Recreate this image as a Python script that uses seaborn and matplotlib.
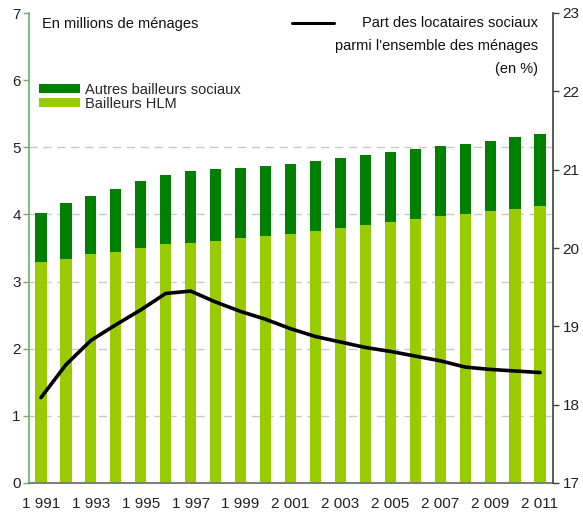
import matplotlib
matplotlib.use("Agg")
import matplotlib.pyplot as plt
import seaborn as sns
import pandas as pd
import numpy as np
from matplotlib.patches import Patch
from matplotlib.lines import Line2D

years = list(range(1991, 2012))
total_sociaux = [4.02, 4.17, 4.27, 4.38, 4.50, 4.59, 4.65, 4.68, 4.69, 4.72, 4.75,
                 4.80, 4.84, 4.89, 4.93, 4.97, 5.02, 5.05, 5.09, 5.15, 5.20]
bailleurs_hlm = [3.29, 3.34, 3.41, 3.44, 3.50, 3.56, 3.57, 3.60, 3.65, 3.68, 3.71,
                 3.75, 3.80, 3.84, 3.89, 3.93, 3.98, 4.01, 4.05, 4.08, 4.13]
part_locataires = [18.09, 18.51, 18.82, 19.02, 19.21, 19.42, 19.45, 19.31, 19.19, 19.09, 18.97,
                   18.87, 18.80, 18.73, 18.68, 18.62, 18.56, 18.48, 18.45, 18.43, 18.41]
year_labels = ["1 991", "1 993", "1 995", "1 997", "1 999", "2 001", "2 003", "2 005", "2 007", "2 009", "2 011"]

sns.set_theme(style="white")
plt.rcParams["font.family"] = ["Liberation Sans", "DejaVu Sans"]

DARK = "#008000"
LIGHT = "#99CC00"

df = pd.DataFrame({"annee": [str(y) for y in years], "total": total_sociaux,
                   "hlm": bailleurs_hlm, "part": part_locataires})
df["idx"] = np.arange(len(df))

fig = plt.figure(figsize=(5.83, 5.18), dpi=100)
ax = fig.add_axes([29/583, 1-483/518, (553-29)/583, (483-13)/518])

sns.barplot(data=df, x="annee", y="total", color=DARK, width=0.45, ax=ax,
            saturation=1, linewidth=0, edgecolor="none")
sns.barplot(data=df, x="annee", y="hlm", color=LIGHT, width=0.45, ax=ax,
            saturation=1, linewidth=0, edgecolor="none")
for p in ax.patches:
    p.set_zorder(3)
    p.set_linewidth(0)

ax.set_ylim(0, 7)
ax.set_xlim(-0.48, 20.52)
ax.set_yticks(range(0, 8))
ax.set_yticklabels([str(i) for i in range(0, 8)], fontsize=11, color="#222222")
for v in range(1, 6):
    ax.axhline(v, color="#c8c8c8", lw=1, ls=(0, (6, 4)), zorder=1)
ax.set_xticks(range(0, 21, 2))
ax.set_xticklabels(year_labels, fontsize=11, color="#222222")
ax.tick_params(axis="x", length=0, pad=10)
ax.tick_params(axis="y", length=4, width=1, color="#66b366", pad=2, direction="out", left=True)
ax.set_xlabel("")
ax.set_ylabel("")
for s in ["top", "right"]:
    ax.spines[s].set_visible(False)
ax.spines["left"].set_color("#66b366")
ax.spines["left"].set_linewidth(1.2)
ax.spines["bottom"].set_color("#808080")
ax.spines["bottom"].set_linewidth(1.5)
ax.spines["bottom"].set_zorder(4)

ax2 = ax.twinx()
sns.lineplot(data=df, x="idx", y="part", color="black", lw=2.6, ax=ax2, zorder=5)
ax2.set_ylim(17, 23)
ax2.set_yticks(range(17, 24))
ax2.set_yticklabels([str(i) for i in range(17, 24)], fontsize=11, color="#222222")
ax2.tick_params(axis="y", length=4, width=1, color="#404040", pad=3, direction="out", right=True)
ax2.set_xlim(-0.48, 20.52)
ax2.set_ylabel("")
ax2.set_xlabel("")
for s in ["top", "left", "bottom"]:
    ax2.spines[s].set_visible(False)
ax2.spines["right"].set_color("#404040")
ax2.spines["right"].set_linewidth(1.2)

fig.text(42/583, 1-24/518, "En millions de ménages", fontsize=10.5, color="#111111",
         ha="left", va="center")

leg = ax.legend(handles=[Patch(color=DARK, lw=0), Patch(color=LIGHT, lw=0)],
                labels=["Autres bailleurs sociaux", "Bailleurs HLM"],
                loc="upper left", bbox_to_anchor=(36/583, 1-80/518), bbox_transform=fig.transFigure,
                frameon=False, fontsize=10.5, labelspacing=0.0, handlelength=2.8,
                handleheight=0.55, handletextpad=0.35, borderpad=0.2, borderaxespad=0)

fig.add_artist(Line2D([292/583, 334/583], [1-23/518, 1-23/518], color="black", lw=2.2,
                      transform=fig.transFigure))
for i, t in enumerate(["Part des locataires sociaux", "parmi l'ensemble des ménages", "(en %)"]):
    fig.text(538/583, 1-(23+23*i)/518, t, fontsize=10.5, color="#111111",
             ha="right", va="center")

fig.savefig("out.png", dpi=100)
